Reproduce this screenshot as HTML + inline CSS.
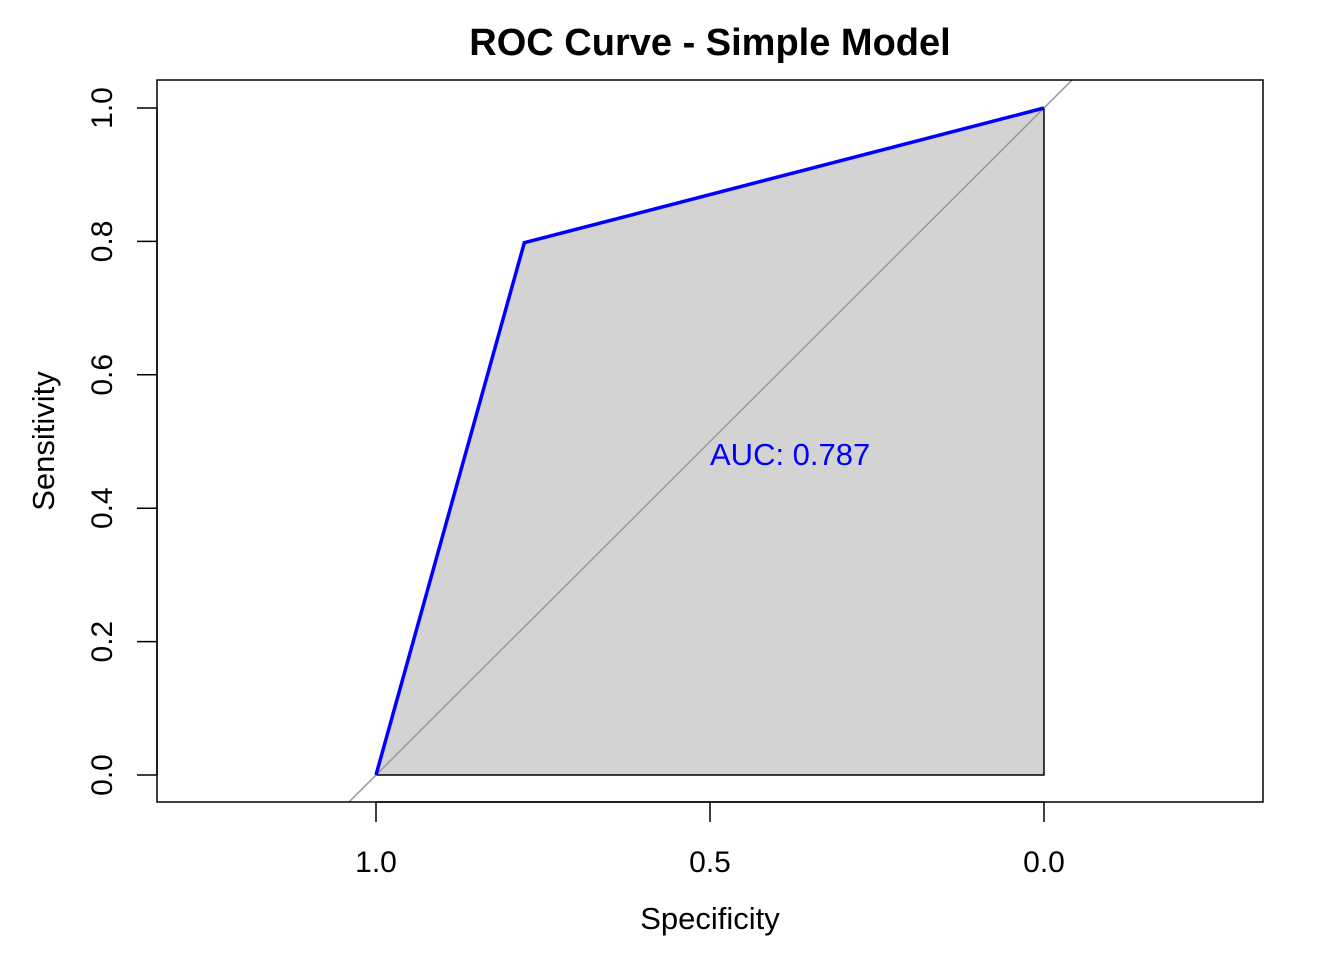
<!DOCTYPE html>
<html><head><meta charset="utf-8"><style>
body{margin:0;background:#fff}
svg text{font-family:"Liberation Sans",Arial,sans-serif}
</style></head><body>
<svg id="chart" width="1344" height="960" xmlns="http://www.w3.org/2000/svg">
<defs><clipPath id="clip"><rect x="157" y="80" width="1106" height="722"/></clipPath></defs>
<text x="710" y="55" text-anchor="middle" font-size="38" font-weight="bold">ROC Curve - Simple Model</text>
<g id="plot"></g>
<rect x="157" y="80" width="1106" height="722" fill="none" stroke="#000" stroke-width="1.5"/>
<text x="710" y="929" text-anchor="middle" font-size="31">Specificity</text>
<text transform="translate(54,441) rotate(-90)" text-anchor="middle" font-size="31">Sensitivity</text>
</svg>
<script>
const specificity=[1.0,0.778,0.0];
const sensitivity=[0.0,0.798,1.0];
const xTicks=[1.0,0.5,0.0];
const xTickLabels=["1.0","0.5","0.0"];
const yTicks=[0,0.2,0.4,0.6,0.8,1.0];
const yTickLabels=["0.0","0.2","0.4","0.6","0.8","1.0"];
const aucLabel="AUC: 0.787";
const aucPos=[0.5,0.48];
const NS="http://www.w3.org/2000/svg";
const X=s=>1044-s*668;
const Y=v=>775-v*667;
const g=document.getElementById('plot');
function mk(t,a,p){const e=document.createElementNS(NS,t);for(const k in a)e.setAttribute(k,a[k]);(p||g).appendChild(e);return e;}
let pts=specificity.map((s,i)=>X(s)+','+Y(sensitivity[i]));
pts.push(X(0)+','+Y(0));
const poly=mk('polygon',{points:pts.join(' '),fill:'#d3d3d3',stroke:'#000','stroke-width':1.5});


const diag=mk('line',{x1:X(1.05),y1:Y(-0.05),x2:X(-0.05),y2:Y(1.05),stroke:'#999','stroke-width':1.5,'clip-path':'url(#clip)'});


const curve=mk('polyline',{points:specificity.map((s,i)=>X(s)+','+Y(sensitivity[i])).join(' '),fill:'none',stroke:'#0000ff','stroke-width':3.5});


const at=mk('text',{x:X(aucPos[0]),y:Y(aucPos[1])+10,'font-size':31,fill:'#0000ff'});
at.textContent=aucLabel;


mk('line',{x1:X(xTicks[0]),y1:802,x2:X(xTicks[xTicks.length-1]),y2:802,stroke:'#000','stroke-width':1.5});
xTicks.forEach((t,i)=>{
 const l=mk('line',{x1:X(t),y1:802,x2:X(t),y2:822,stroke:'#000','stroke-width':1.5});
 
 
 const tx=mk('text',{x:X(t),y:872,'text-anchor':'middle','font-size':30});
 tx.textContent=xTickLabels[i];
 
 
});
mk('line',{x1:157,y1:Y(0),x2:157,y2:Y(1),stroke:'#000','stroke-width':1.5});
yTicks.forEach((t,i)=>{
 const l=mk('line',{x1:137,y1:Y(t),x2:157,y2:Y(t),stroke:'#000','stroke-width':1.5});
 
 
 const tx=mk('text',{transform:`translate(112,${Y(t)}) rotate(-90)`,'text-anchor':'middle','font-size':30});
 tx.textContent=yTickLabels[i];
 
 
});
</script>
</body></html>
